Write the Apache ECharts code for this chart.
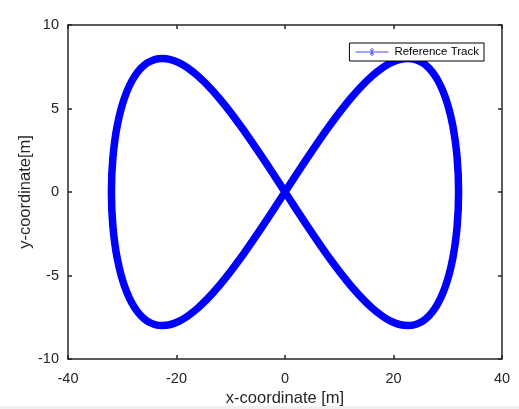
<!DOCTYPE html>
<html>
<head>
<meta charset="utf-8">
<script src="https://cdn.jsdelivr.net/npm/echarts@6/dist/echarts.min.js"></script>
<style>
html,body{margin:0;padding:0;background:#fff;}
#chart{width:519px;height:409px;}
</style>
</head>
<body>
<div id="chart"></div>
<script>
// Values (figure-eight track)
var trackX = [0, 4.18, 8.28, 12.25, 16.0, 19.48, 22.63, 25.39, 27.71, 29.56, 30.91, 31.72, 32.0,
  31.72, 30.91, 29.56, 27.71, 25.39, 22.63, 19.48, 16.0, 12.25, 8.28, 4.18, 0,
  -4.18, -8.28, -12.25, -16.0, -19.48, -22.63, -25.39, -27.71, -29.56, -30.91, -31.72, -32.0,
  -31.72, -30.91, -29.56, -27.71, -25.39, -22.63, -19.48, -16.0, -12.25, -8.28, -4.18, 0];
var trackY = [0, 2.07, 4.0, 5.66, 6.93, 7.73, 8.0, 7.73, 6.93, 5.66, 4.0, 2.07, 0,
  -2.07, -4.0, -5.66, -6.93, -7.73, -8.0, -7.73, -6.93, -5.66, -4.0, -2.07, 0,
  2.07, 4.0, 5.66, 6.93, 7.73, 8.0, 7.73, 6.93, 5.66, 4.0, 2.07, 0,
  -2.07, -4.0, -5.66, -6.93, -7.73, -8.0, -7.73, -6.93, -5.66, -4.0, -2.07, 0];
var seriesName = 'Reference Track';
var xTicks = {min: -40, max: 40, interval: 20};
var yTicks = {min: -10, max: 10, interval: 5};
var xLabel = 'x-coordinate [m]';
var yLabel = 'y-coordinate[m]';

var data = trackX.map(function(x, i){ return [x, trackY[i]]; });

var axisCol = '#262626';
var chart = echarts.init(document.getElementById('chart'), null, {renderer: 'canvas'});
var font = 'Liberation Sans, Arial, sans-serif';
function baseAxis(extra){
  return Object.assign({
    type: 'value',
    nameMoveOverlap: false,
    axisLine: {show: true, onZero: false, lineStyle: {color: axisCol, width: 1.5}},
    axisTick: {show: true, inside: true, length: 4, lineStyle: {color: axisCol, width: 1.5}},
    splitLine: {show: false},
    axisLabel: {color: axisCol, fontSize: 14, fontFamily: font}
  }, extra);
}
chart.setOption({
  animation: false,
  backgroundColor: '#ffffff',
  textStyle: {fontFamily: font},
  grid: {left: 68, right: 17, top: 25, bottom: 50, containLabel: false, outerBoundsMode: 'none'},
  legend: {
    show: true,
    data: [seriesName],
    right: 35, top: 43,
    orient: 'vertical',
    backgroundColor: '#ffffff',
    borderColor: '#000000',
    borderWidth: 1,
    borderRadius: 0,
    padding: [3, 5, 3, 6],
    itemWidth: 33, itemHeight: 10, itemGap: 0,
    icon: 'path://M0,4.5 L33,4.5 L33,5.5 L0,5.5 Z M16,1 L17,1 L17,9 L16,9 Z M13,4.5 L20,4.5 L20,5.5 L13,5.5 Z M14,2 L14.7,2 L19,8 L18.3,8 Z M19,2 L18.3,2 L14,8 L14.7,8 Z',
    textStyle: {color: '#000', fontSize: 11.5, fontFamily: font, padding: [0,0,0,1]}
  },
  xAxis: [
    baseAxis({min: xTicks.min, max: xTicks.max, interval: xTicks.interval, position: 'bottom',
      name: xLabel, nameLocation: 'middle', nameGap: 31,
      nameTextStyle: {color: axisCol, fontSize: 16.5, fontFamily: font},
      axisLabel: {color: axisCol, fontSize: 14.5, fontFamily: font, margin: 12}}),
    baseAxis({min: xTicks.min, max: xTicks.max, interval: xTicks.interval, position: 'top',
      axisLabel: {show: false}})
  ],
  yAxis: [
    baseAxis({min: yTicks.min, max: yTicks.max, interval: yTicks.interval, position: 'left',
      name: yLabel, nameLocation: 'middle', nameGap: 34, nameRotate: 90,
      nameTextStyle: {color: axisCol, fontSize: 16.5, fontFamily: font},
      axisLabel: {color: axisCol, fontSize: 14.5, fontFamily: font, margin: 9}}),
    baseAxis({min: yTicks.min, max: yTicks.max, interval: yTicks.interval, position: 'right',
      axisLabel: {show: false}})
  ],
  series: [{
    name: seriesName,
    type: 'line',
    xAxisIndex: 0, yAxisIndex: 0,
    data: data,
    smooth: 0.35,
    showSymbol: false,
    symbol: 'none',
    color: '#4d4dff',
    lineStyle: {color: '#0000ff', width: 7.5, join: 'round', cap: 'round'}
  }],
  graphic: [{
    type: 'rect', left: 0, top: 406, silent: true,
    shape: {width: 519, height: 3},
    style: {fill: '#f0f0f0'}
  }]
});
</script>
</body>
</html>
